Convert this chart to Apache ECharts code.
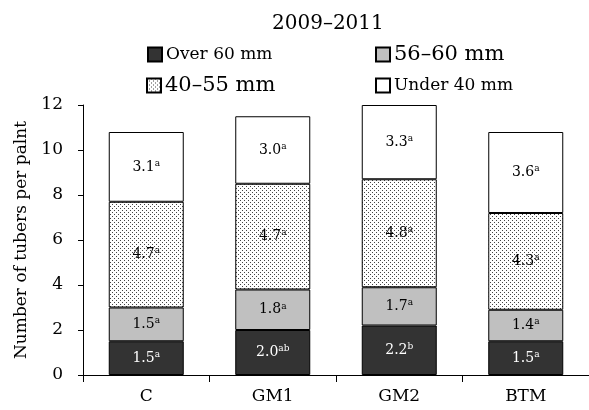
<!DOCTYPE html>
<html>
<head>
	<meta charset="UTF-8">
	<title></title>
</head>
<body style="margin:0;">
	<div id="chart" style="width:589px;height:410px;"></div>
</body>
<script src="https://cdn.jsdelivr.net/npm/echarts@6/dist/echarts.min.js"></script>
<script>
var categories = ['C', 'GM1', 'GM2', 'BTM'];
var over60 = [1.5, 2.0, 2.2, 1.5];
var over60Sig = ['a', 'ab', 'b', 'a'];
var mid56 = [1.5, 1.8, 1.7, 1.4];
var mid56Sig = ['a', 'a', 'a', 'a'];
var mid40 = [4.7, 4.7, 4.8, 4.3];
var mid40Sig = ['a', 'a', 'a', 'a'];
var under40 = [3.1, 3.0, 3.3, 3.6];
var under40Sig = ['a', 'a', 'a', 'a'];
var yTicks = [0, 2, 4, 6, 8, 10, 12];

var serif = 'DejaVu Serif';

// 点状填充
var dotCanvas = document.createElement('canvas');
dotCanvas.width = 4;
dotCanvas.height = 4;
var ctx = dotCanvas.getContext('2d');
ctx.fillStyle = '#fff';
ctx.fillRect(0, 0, 4, 4);
ctx.fillStyle = '#444';
ctx.fillRect(0, 0, 1, 1);
ctx.fillRect(2, 2, 1, 1);
var dotted = { image: dotCanvas, repeat: 'repeat' };

var makeLabel = function (sig, color) {
    return {
        show: true,
        position: 'inside',
        color: color,
        formatter: function (p) {
            return '{v|' + p.value.toFixed(1) + '}{s|' + sig[p.dataIndex] + '}';
        },
        rich: {
            v: { fontFamily: serif, fontSize: 14, lineHeight: 16, color: color },
            s: { fontFamily: serif, fontSize: 9, lineHeight: 10, verticalAlign: 'top', color: color }
        }
    };
};

var makeSeries = function (name, data, sig, fill, textColor) {
    return {
        name: name,
        type: 'bar',
        stack: 'total',
        barWidth: 75,
        data: data,
        itemStyle: { color: fill, borderColor: '#000', borderWidth: 1 },
        label: makeLabel(sig, textColor)
    };
};

var legendBox = function (name, left, top, size) {
    return {
        data: [name],
        left: left,
        top: top,
        icon: 'rect',
        itemWidth: 14,
        itemHeight: 14,
        itemGap: 0,
        padding: 0,
        textStyle: { fontFamily: serif, fontSize: size, color: '#000', padding: [0, 0, 0, -1] }
    };
};

var chart = echarts.init(document.getElementById('chart'));

var option = {
    backgroundColor: '#fff',
    animation: false,
    title: {
        text: '2009–2011',
        left: 272,
        top: 14,
        padding: 0,
        textStyle: { fontFamily: serif, fontSize: 20, fontWeight: 'normal', color: '#000' }
    },
    legend: [
        legendBox('Over 60 mm', 147, 46, 17),
        legendBox('56–60 mm', 375, 44, 21),
        legendBox('40–55 mm', 146, 75, 21),
        legendBox('Under 40 mm', 375, 77, 17)
    ],
    grid: { left: 83, top: 105, width: 508, bottom: 35 },
    xAxis: {
        type: 'category',
        data: categories,
        axisLine: { lineStyle: { color: '#000', width: 1 } },
        axisTick: { show: true, length: 7, lineStyle: { color: '#000' } },
        axisLabel: { fontFamily: serif, fontSize: 17, color: '#000', margin: 13 }
    },
    yAxis: {
        type: 'value',
        min: yTicks[0],
        max: yTicks[yTicks.length - 1],
        interval: yTicks[1] - yTicks[0],
        name: 'Number of tubers per palnt',
        nameLocation: 'middle',
        nameGap: 52,
        nameTextStyle: { fontFamily: serif, fontSize: 17, color: '#000' },
        axisLine: { show: true, lineStyle: { color: '#000', width: 1 } },
        axisTick: { show: true, length: 5, lineStyle: { color: '#000' } },
        axisLabel: { fontFamily: serif, fontSize: 17, color: '#000', margin: 20 },
        splitLine: { show: false }
    },
    series: [
        makeSeries('Over 60 mm', over60, over60Sig, '#333333', '#fff'),
        makeSeries('56–60 mm', mid56, mid56Sig, '#c0c0c0', '#000'),
        makeSeries('40–55 mm', mid40, mid40Sig, dotted, '#000'),
        makeSeries('Under 40 mm', under40, under40Sig, '#fff', '#000')
    ]
};

chart.setOption(option);
</script>
</html>
